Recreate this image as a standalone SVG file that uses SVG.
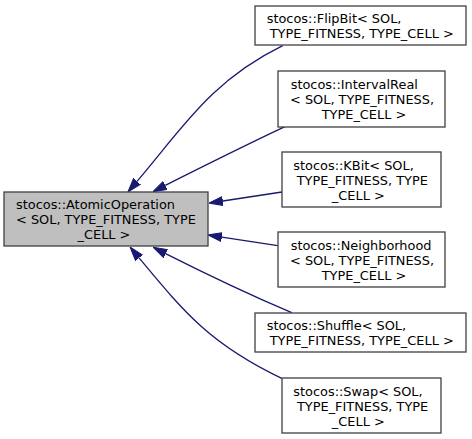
<svg xmlns="http://www.w3.org/2000/svg" width="472" height="439" viewBox="0 0 472 439">
<style>
.box{fill:#ffffff;stroke:#404040;stroke-width:1.3}
.main{fill:#bfbfbf;stroke:#404040;stroke-width:1.3}
text{font-family:"DejaVu Sans",sans-serif;font-size:12.9px;fill:#000000}
.m{text-anchor:middle}
.edge{fill:none;stroke:#191970;stroke-width:1.3;marker-end:url(#arr)}
</style>
<defs>
<marker id="arr" viewBox="0 0 14 10" refX="0" refY="5" markerWidth="14" markerHeight="10" markerUnits="userSpaceOnUse" orient="auto">
<path d="M0,0.5 L14,5 L0,9.5 z" fill="#191970" stroke="#191970" stroke-width="1"/>
</marker>
</defs>
<g id="connectors">
<path class="edge" d="M282.7,45.7 C210.7,80.9 182.5,128.2 137,181.4"/>
<path class="edge" d="M285,126.7 C250,143 200,168 165.3,185.4"/>
<path class="edge" d="M282,192 L222.8,201"/>
<path class="edge" d="M277.7,245.7 L221.8,237.1"/>
<path class="edge" d="M291.7,312.7 C255,297 200,271 165.6,253.6"/>
<path class="edge" d="M281.7,378.3 C209.7,343.9 183.8,311.7 139,257.8"/>
</g>
<g id="node-atomicoperation">
<rect class="main" x="4" y="192" width="204" height="54"/>
<text x="16" y="209">stocos::AtomicOperation</text>
<text x="16" y="224">&lt; SOL, TYPE_FITNESS, TYPE</text>
<text class="m" x="104" y="239">_CELL &gt;</text>
</g>
<g id="node-flipbit">
<rect class="box" x="255" y="6" width="211" height="39"/>
<text x="266.7" y="23">stocos::FlipBit&lt; SOL,</text>
<text class="m" x="361.7" y="38">TYPE_FITNESS, TYPE_CELL &gt;</text>
</g>
<g id="node-intervalreal">
<rect class="box" x="278" y="71" width="167" height="56"/>
<text x="290.7" y="89">stocos::IntervalReal</text>
<text x="290" y="104">&lt; SOL, TYPE_FITNESS,</text>
<text class="m" x="364" y="119">TYPE_CELL &gt;</text>
</g>
<g id="node-kbit">
<rect class="box" x="282" y="152" width="159" height="55"/>
<text x="293.3" y="169.5">stocos::KBit&lt; SOL,</text>
<text x="296.7" y="184.5">TYPE_FITNESS, TYPE</text>
<text class="m" x="358.3" y="199.5">_CELL &gt;</text>
</g>
<g id="node-neighborhood">
<rect class="box" x="278" y="232" width="167" height="55"/>
<text x="290.7" y="249.5">stocos::Neighborhood</text>
<text x="290" y="264.5">&lt; SOL, TYPE_FITNESS,</text>
<text class="m" x="364" y="279.5">TYPE_CELL &gt;</text>
</g>
<g id="node-shuffle">
<rect class="box" x="255" y="313" width="211" height="39"/>
<text x="266.7" y="330">stocos::Shuffle&lt; SOL,</text>
<text class="m" x="361.7" y="345">TYPE_FITNESS, TYPE_CELL &gt;</text>
</g>
<g id="node-swap">
<rect class="box" x="282" y="378" width="159" height="55"/>
<text x="293.3" y="395.5">stocos::Swap&lt; SOL,</text>
<text x="297" y="410.5">TYPE_FITNESS, TYPE</text>
<text class="m" x="358.3" y="425.5">_CELL &gt;</text>
</g>
</svg>
